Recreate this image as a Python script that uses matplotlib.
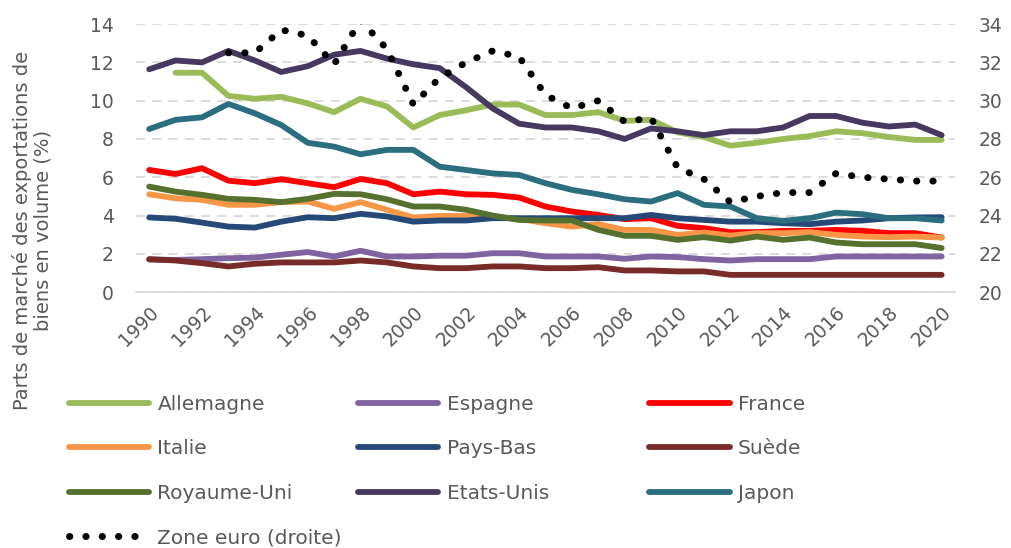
import matplotlib
matplotlib.use("Agg")
import matplotlib.pyplot as plt

# ── Data ──────────────────────────────────────────────────────────────
years = list(range(1990, 2021))

allemagne = [None, 11.46, 11.46, 10.25, 10.1, 10.2, 9.86, 9.4, 10.1, 9.7,
             8.6, 9.25, 9.5, 9.8, 9.8, 9.25, 9.25, 9.4, 8.95, 9.0,
             8.35, 8.1, 7.65, 7.8, 8.0, 8.15, 8.4, 8.3, 8.1, 7.95, 7.95]
espagne = [1.7, 1.68, 1.72, 1.77, 1.8, 1.95, 2.09, 1.86, 2.16, 1.86,
           1.86, 1.9, 1.9, 2.03, 2.03, 1.86, 1.86, 1.86, 1.74, 1.86,
           1.83, 1.72, 1.65, 1.72, 1.72, 1.72, 1.86, 1.86, 1.86, 1.86, 1.86]
france = [6.38, 6.17, 6.47, 5.82, 5.69, 5.9, 5.69, 5.48, 5.91, 5.69,
          5.11, 5.25, 5.11, 5.08, 4.94, 4.47, 4.21, 4.03, 3.81, 3.86,
          3.46, 3.34, 3.13, 3.13, 3.2, 3.2, 3.25, 3.2, 3.08, 3.08, 2.85]
italie = [5.11, 4.9, 4.82, 4.56, 4.56, 4.7, 4.73, 4.35, 4.7, 4.3,
          3.9, 3.98, 3.98, 3.95, 3.83, 3.6, 3.42, 3.55, 3.25, 3.25,
          2.99, 3.11, 2.95, 3.08, 3.08, 3.13, 2.99, 2.9, 2.87, 2.9, 2.85]
pays_bas = [3.9, 3.83, 3.63, 3.42, 3.37, 3.68, 3.91, 3.86, 4.09, 3.95,
            3.68, 3.74, 3.74, 3.86, 3.86, 3.86, 3.86, 3.86, 3.86, 4.03,
            3.86, 3.77, 3.68, 3.68, 3.6, 3.55, 3.68, 3.74, 3.86, 3.9, 3.91]
suede = [1.72, 1.65, 1.51, 1.34, 1.48, 1.55, 1.55, 1.55, 1.65, 1.55,
         1.34, 1.25, 1.25, 1.34, 1.34, 1.25, 1.25, 1.3, 1.13, 1.13,
         1.08, 1.08, 0.9, 0.9, 0.9, 0.9, 0.9, 0.9, 0.9, 0.9, 0.9]
royaume_uni = [5.51, 5.25, 5.08, 4.87, 4.82, 4.7, 4.87, 5.13, 5.11, 4.85,
               4.47, 4.47, 4.3, 4.0, 3.77, 3.74, 3.74, 3.25, 2.94, 2.94,
               2.73, 2.87, 2.69, 2.9, 2.73, 2.85, 2.59, 2.5, 2.5, 2.5, 2.3]
etats_unis = [11.64, 12.1, 12.0, 12.6, 12.1, 11.5, 11.8, 12.4, 12.6, 12.2,
              11.9, 11.7, 10.7, 9.6, 8.8, 8.6, 8.6, 8.4, 8.0, 8.55,
              8.4, 8.2, 8.4, 8.4, 8.6, 9.2, 9.2, 8.85, 8.65, 8.75, 8.2]
japon = [8.52, 9.0, 9.13, 9.83, 9.34, 8.73, 7.8, 7.6, 7.2, 7.43,
         7.43, 6.55, 6.38, 6.2, 6.12, 5.69, 5.34, 5.11, 4.85, 4.73,
         5.17, 4.56, 4.47, 3.86, 3.72, 3.86, 4.15, 4.07, 3.86, 3.86, 3.74]
zone_euro = [None, None, None, 32.5, 32.5, 33.7, 33.4, 31.9, 34.2, 32.7,
             29.8, 31.2, 32.0, 32.6, 32.3, 30.3, 29.6, 30.0, 28.9, 29.1,
             26.5, 25.9, 24.7, 25.0, 25.2, 25.2, 26.2, 26.0, 25.9, 25.8, 25.8]

series = [
    ("Allemagne", allemagne, "#9bbb59"),
    ("Espagne", espagne, "#8064a2"),
    ("France", france, "#ff0000"),
    ("Italie", italie, "#f79646"),
    ("Pays-Bas", pays_bas, "#254a78"),
    ("Suède", suede, "#772c2a"),
    ("Royaume-Uni", royaume_uni, "#56712d"),
    ("Etats-Unis", etats_unis, "#47385f"),
    ("Japon", japon, "#2a6e7f"),
]

GREY = "#595959"
GRID = "#d9d9d9"

fig = plt.figure(figsize=(10.11, 5.48), dpi=100)
ax = fig.add_axes([0.1345, 0.467, 0.81, 0.489])

handles = {}
for name, vals, col in series:
    xs = [y for y, v in zip(years, vals) if v is not None]
    ys = [v for v in vals if v is not None]
    ln, = ax.plot(xs, ys, color=col, lw=4.2, solid_capstyle="round",
                  solid_joinstyle="round", label=name)
    handles[name] = ln

ax.set_xlim(1989.5, 2020.5)
ax.set_ylim(0, 14)
ax.set_yticks(range(0, 15, 2))
ax.set_xticks(range(1990, 2021, 2))
ax.set_xticklabels([str(y) for y in range(1990, 2021, 2)], rotation=45,
                   ha="right", rotation_mode="anchor")
ax.tick_params(axis="both", length=0, colors=GREY, labelsize=13.5)
ax.tick_params(axis="y", pad=16)
ax.tick_params(axis="x", pad=8)
for s in ["top", "right", "left"]:
    ax.spines[s].set_visible(False)
ax.spines["bottom"].set_color(GRID)
ax.spines["bottom"].set_linewidth(1.3)
ax.yaxis.grid(True, color=GRID, lw=1.3, linestyle=(0, (5, 4)))
ax.set_axisbelow(True)

ax2 = ax.twinx()
xs = [y for y, v in zip(years, zone_euro) if v is not None]
ys = [v for v in zone_euro if v is not None]
ze, = ax2.plot(xs, ys, color="black", lw=5, linestyle=(0, (0.05, 2.3)),
               dash_capstyle="round", label="Zone euro (droite)")
ax2.set_ylim(20, 34)
ax2.set_yticks(range(20, 35, 2))
ax2.tick_params(axis="y", length=0, colors=GREY, labelsize=13.5, pad=17)
for s in ax2.spines.values():
    s.set_visible(False)

fig.text(0.032, 0.58,
         "Parts de marché des exportations de\nbiens en volume (%)",
         rotation=90, ha="center", va="center", fontsize=14, color=GREY,
         linespacing=1.15)

# legend, three columns laid out row by row as in the source
cols = [
    ["Allemagne", "Italie", "Royaume-Uni", None],
    ["Espagne", "Pays-Bas", "Etats-Unis"],
    ["France", "Suède", "Japon"],
]
col_x = [0.068, 0.354, 0.642]
for cx, names in zip(col_x, cols):
    hs, ls = [], []
    for n in names:
        if n is None:
            hs.append(ze)
            ls.append("Zone euro (droite)")
        else:
            hs.append(handles[n])
            ls.append(n)
    fig.legend(hs, ls, loc="upper left", bbox_to_anchor=(cx, 0.28),
               frameon=False, handlelength=4.0, handletextpad=0.4,
               labelspacing=1.27, borderpad=0, borderaxespad=0,
               prop={"size": 14.5}, labelcolor=GREY)

fig.savefig("out.png", dpi=100)
